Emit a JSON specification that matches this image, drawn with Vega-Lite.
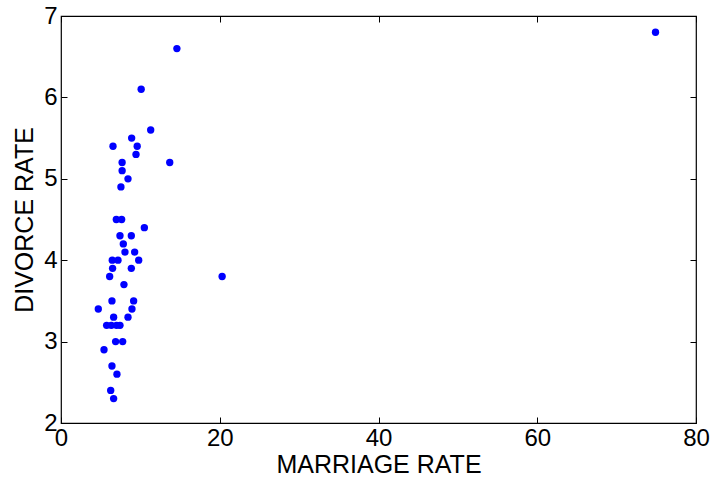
{
  "$schema": "https://vega.github.io/schema/vega-lite/v6.json",
  "autosize": "none",
  "width": 635,
  "height": 407,
  "padding": {"left": 61, "top": 16, "right": 16, "bottom": 56},
  "background": "white",
  "config": {
    "view": {"stroke": "black", "strokeWidth": 1.2},
    "axis": {
      "grid": false,
      "domain": false,
      "tickColor": "black",
      "tickSize": -6,
      "labelFlush": false,
      "labelOverlap": false,
      "labelColor": "black",
      "labelFont": "Liberation Sans",
      "labelFontSize": 24,
      "titleFont": "Liberation Sans",
      "titleFontSize": 25,
      "titleFontWeight": "normal",
      "titleColor": "black"
    }
  },
  "data": {"values": [
    {"m": 74.9, "d": 6.8}, {"m": 14.6, "d": 6.6}, {"m": 10.1, "d": 6.1},
    {"m": 11.3, "d": 5.6}, {"m": 8.9, "d": 5.5}, {"m": 6.55, "d": 5.4},
    {"m": 9.6, "d": 5.4}, {"m": 9.45, "d": 5.3}, {"m": 13.7, "d": 5.2},
    {"m": 7.7, "d": 5.2}, {"m": 7.7, "d": 5.1}, {"m": 8.44, "d": 5.0},
    {"m": 7.55, "d": 4.9}, {"m": 6.97, "d": 4.5}, {"m": 7.64, "d": 4.5},
    {"m": 10.5, "d": 4.4}, {"m": 7.43, "d": 4.3}, {"m": 8.86, "d": 4.3},
    {"m": 7.85, "d": 4.2}, {"m": 8.06, "d": 4.1}, {"m": 9.28, "d": 4.1},
    {"m": 6.46, "d": 4.0}, {"m": 7.18, "d": 4.0}, {"m": 9.79, "d": 4.0},
    {"m": 6.5, "d": 3.9}, {"m": 8.86, "d": 3.9}, {"m": 6.13, "d": 3.8},
    {"m": 20.3, "d": 3.8}, {"m": 7.93, "d": 3.7}, {"m": 6.42, "d": 3.5},
    {"m": 9.15, "d": 3.5}, {"m": 4.7, "d": 3.4}, {"m": 8.94, "d": 3.4},
    {"m": 6.63, "d": 3.3}, {"m": 8.44, "d": 3.3}, {"m": 5.75, "d": 3.2},
    {"m": 6.34, "d": 3.2}, {"m": 7.0, "d": 3.2}, {"m": 7.43, "d": 3.2},
    {"m": 6.88, "d": 3.0}, {"m": 7.77, "d": 3.0}, {"m": 5.42, "d": 2.9},
    {"m": 6.42, "d": 2.7}, {"m": 7.05, "d": 2.6}, {"m": 6.26, "d": 2.4},
    {"m": 6.63, "d": 2.3}
  ]},
  "layer": [
    {
      "mark": {"type": "circle", "size": 54, "color": "#0000ff", "opacity": 1},
      "encoding": {
        "x": {"field": "m", "type": "quantitative", "title": "MARRIAGE RATE",
              "scale": {"domain": [0, 80], "nice": false},
              "axis": {"values": [0, 20, 40, 60, 80], "orient": "bottom", "labelPadding": 9, "titlePadding": 2}},
        "y": {"field": "d", "type": "quantitative", "title": "DIVORCE RATE",
              "scale": {"domain": [2, 7], "nice": false, "zero": false},
              "axis": {"values": [2, 3, 4, 5, 6, 7], "orient": "left", "labelPadding": 10, "titlePadding": 6}}
      }
    },
    {
      "mark": {"type": "circle", "opacity": 0},
      "encoding": {
        "x": {"field": "m", "type": "quantitative",
              "axis": {"values": [0, 20, 40, 60, 80], "orient": "top", "labels": false, "title": null}},
        "y": {"field": "d", "type": "quantitative",
              "axis": {"values": [2, 3, 4, 5, 6, 7], "orient": "right", "labels": false, "title": null}}
      }
    }
  ],
  "resolve": {"axis": {"x": "independent", "y": "independent"}}
}
